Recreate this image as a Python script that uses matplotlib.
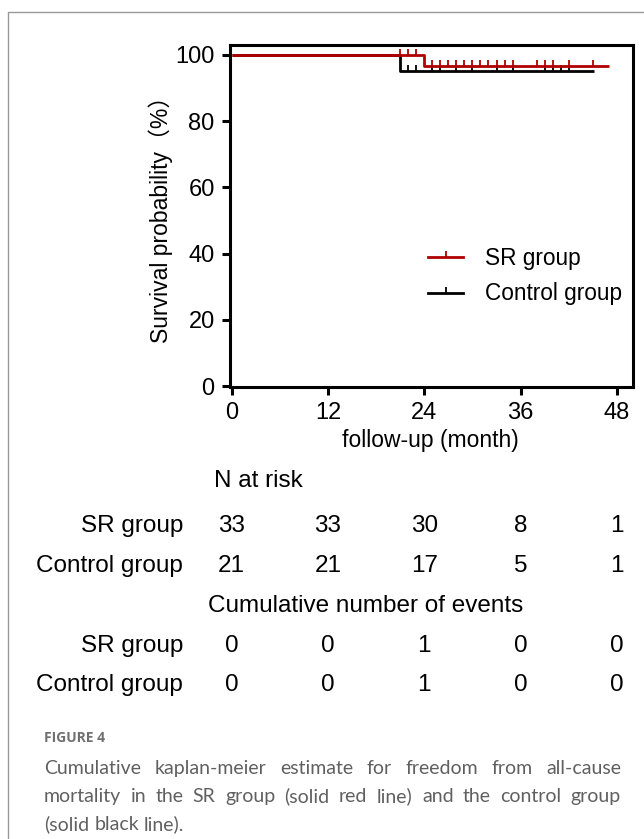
import matplotlib
matplotlib.use("Agg")
import matplotlib.pyplot as plt
import matplotlib.transforms as mtransforms
from matplotlib.lines import Line2D

plt.rcParams['font.family'] = ['Liberation Sans', 'Noto Sans CJK SC', 'DejaVu Sans']

# data
time_ticks = [0, 12, 24, 36, 48]
y_ticks = [0, 20, 40, 60, 80, 100]

sr_times = [0, 24, 47]
sr_surv = [100, 96.7, 96.7]
sr_censor = [21, 22, 23, 25, 26, 27, 28, 29, 30, 31, 32, 33, 34, 35, 38, 39, 40, 42, 45]

ctrl_times = [0, 21, 45.1]
ctrl_surv = [100, 95.2, 95.2]
ctrl_censor = [22, 23, 25, 26, 28, 30, 33, 35, 39, 40, 41, 42]

sr_at_risk = [33, 33, 30, 8, 1]
ctrl_at_risk = [21, 21, 17, 5, 1]
sr_events = [0, 0, 1, 0, 0]
ctrl_events = [0, 0, 1, 0, 0]

RED = '#b00000'
W, H = 644, 839

fig = plt.figure(figsize=(W / 100, H / 100), dpi=100)
ax = fig.add_axes([230 / W, 1 - 387 / H, 403 / W, 342 / H])


def fx(px):
    return px / W


def fy(py):
    return 1 - py / H


def surv_at(times, surv, t):
    s = surv[0]
    for ti, si in zip(times, surv):
        if t >= ti:
            s = si
    return s


for times, surv, cens, col in [
        (ctrl_times, ctrl_surv, ctrl_censor, 'black'),
        (sr_times, sr_surv, sr_censor, RED)]:
    ax.step(times, surv, where='post', color=col, lw=2.0, solid_capstyle='butt')
    ax.plot(cens, [surv_at(times, surv, c) for c in cens], ls='none',
            marker=2, ms=4.5, mew=1.3, color=col)

handles = [Line2D([], [], color=RED, lw=2.0, marker=2, ms=4.5, mew=1.3),
           Line2D([], [], color='black', lw=2.0, marker=2, ms=4.5, mew=1.3)]
fig.legend(handles, ['SR group', 'Control group'], loc='upper left',
           bbox_to_anchor=(fx(428), fy(247)), frameon=False, fontsize=16.3, numpoints=1,
           borderpad=0, borderaxespad=0,
           handlelength=1.55, handletextpad=0.97, labelspacing=0.55)

ax.set_xlim(-0.2, 50)
ax.set_ylim(-0.3, 103)
ax.set_xticks(time_ticks)
ax.set_yticks(y_ticks)
ax.tick_params(labelsize=17, width=2.2, length=6, direction='out', pad=5)
for s in ax.spines.values():
    s.set_linewidth(2.2)
ax.set_xlabel('follow-up (month)', fontsize=16.5, va='center')
ax.xaxis.set_label_coords((430 - 230) / 403, (387 - 441) / 342)
ax.set_ylabel('Survival probability（%）', fontsize=16.5, va='center')
ax.yaxis.set_label_coords((161 - 230) / 403, (387 - 214) / 342)

# risk table below the axes
tr = mtransforms.blended_transform_factory(ax.transData, fig.transFigure)
FS = 17.5
row_y = [526, 566, 646, 685]

fig.text(fx(214), fy(481), 'N at risk', fontsize=FS, ha='left', va='center')
fig.text(fx(366), fy(606), 'Cumulative number of events', fontsize=FS, ha='center', va='center')
for lab, py in zip(['SR group', 'Control group', 'SR group', 'Control group'], row_y):
    fig.text(fx(183), fy(py), lab, fontsize=FS, ha='right', va='center')

for row, py in zip([sr_at_risk, ctrl_at_risk, sr_events, ctrl_events], row_y):
    for t, v in zip(time_ticks, row):
        fig.text(t, fy(py), str(v), transform=tr, fontsize=FS, ha='center', va='center')

# frame lines of the figure panel
fig.add_artist(Line2D([fx(8), fx(8), 1.0], [0.0, fy(12), fy(12)],
                      transform=fig.transFigure, color='#9a9a9a', lw=1.0))

# caption
fig.text(fx(44), fy(738), 'FIGURE 4', fontsize=10, fontweight='bold',
         color='#707070', family='Open Sans', ha='left', va='center')

CFS = 14
CFONT = 'Lato'
cap_lines = ['Cumulative kaplan-meier estimate for freedom from all-cause',
             'mortality in the SR group (solid red line) and the control group',
             '(solid black line).']
cap_base = [774, 802, 830]
x0, x1 = fx(44), fx(621)
fig.canvas.draw()
renderer = fig.canvas.get_renderer()
for i, (line, py) in enumerate(zip(cap_lines, cap_base)):
    words = line.split(' ')
    objs = [fig.text(0, fy(py), w, fontsize=CFS, color='#606060', family=CFONT,
                     ha='left', va='baseline') for w in words]
    widths = [o.get_window_extent(renderer).width / W for o in objs]
    if i < len(cap_lines) - 1:
        gap = (x1 - x0 - sum(widths)) / (len(words) - 1)
    else:
        sp = fig.text(0, 0, 'a a', fontsize=CFS, family=CFONT)
        aa = fig.text(0, 0, 'aa', fontsize=CFS, family=CFONT)
        gap = (sp.get_window_extent(renderer).width - aa.get_window_extent(renderer).width) / W
        sp.remove()
        aa.remove()
    x = x0
    for o, w in zip(objs, widths):
        o.set_x(x)
        x += w + gap

fig.savefig('out.png', dpi=100)
